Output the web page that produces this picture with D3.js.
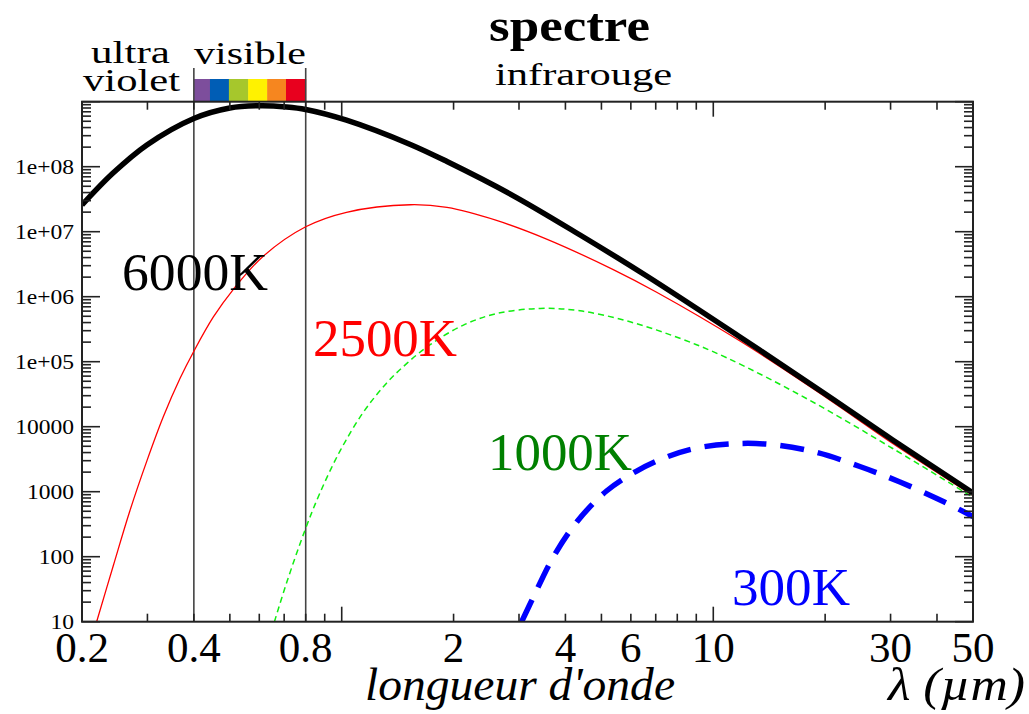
<!DOCTYPE html>
<html>
<head>
<meta charset="utf-8">
<script src="https://cdn.jsdelivr.net/npm/d3@7"></script>
<style>
  body { margin: 0; background: white; }
  svg { display: block; }
</style>
</head>
<body>
<div id="chart"></div>
<script>

// wavelengths in micrometres
var lambda_6000 = [0.2, 0.242, 0.299, 0.4, 0.5, 0.603, 0.711, 0.8, 1.03, 1.53, 1.92, 2.89, 4.38, 6.62, 11.8, 20.2, 30.4, 50];
var value_6000  = [2.58e7, 7.9e7, 2.16e8, 5.52e8, 8.0e8, 8.67e8, 8.3e8, 7.6e8, 5.2e8, 2.2e8, 1.2e8, 3.6e7, 8.9e6, 2.08e6, 2.4e5, 3.07e4, 6240, 955];

var lambda_2500 = [0.219, 0.243, 0.269, 0.299, 0.331, 0.367, 0.4, 0.451, 0.511, 0.615, 0.8, 1.03, 1.53, 1.92, 2.61, 3.56, 5.38, 7.04, 11.8, 20.2, 30.4, 50];
var value_2500  = [10, 73.8, 505, 2980, 1.42e4, 5.5e4, 1.45e5, 4.84e5, 1.3e6, 4.2e6, 1.19e7, 1.99e7, 2.6e7, 2.36e7, 1.49e7, 7.7e6, 2.61e6, 1.17e6, 2.08e5, 2.77e4, 5520, 874];

var lambda_1000 = [0.659, 0.711, 0.796, 0.874, 0.99, 1.142, 1.32, 1.5, 1.73, 2.12, 2.61, 3.42, 4.38, 5.97, 8.13, 10.9, 18.2, 30.4, 50];
var value_1000  = [10, 40, 254, 959, 4250, 1.65e4, 4.67e4, 9.5e4, 1.83e5, 3.63e5, 5.5e5, 6.6e5, 6.07e5, 4.11e5, 2.29e5, 1.14e5, 2.54e4, 4620, 820];

var lambda_300 = [3.05, 3.28, 3.71, 4.29, 5.16, 6.22, 7.49, 9.02, 11.8, 14.8, 19.0, 24.8, 31.8, 41.6, 50];
var value_300  = [10, 24, 99, 342, 1025, 2080, 3420, 4700, 5520, 5220, 4010, 2440, 1410, 707, 415];

var x_tick_labels = [0.2, 0.4, 0.8, 2, 4, 6, 10, 30, 50];
var y_tick_values = [10, 100, 1000, 10000, 1e5, 1e6, 1e7, 1e8];
var y_tick_labels = ['10', '100', '1000', '10000', '1e+05', '1e+06', '1e+07', '1e+08'];

// visible band edges and colours
var band_edges  = [0.4, 0.442, 0.497, 0.56, 0.63, 0.708, 0.8];
var band_colors = ['#7d4e9c', '#005db5', '#a6c72c', '#fff200', '#f6861f', '#e8001e'];

var width = 1029;
var height = 714;
var serif = '"Liberation Serif", "Times New Roman", serif';

var plot = {left: 82, right: 973, top: 101.7, bottom: 621.7};

var x = d3.scaleLog().domain([0.2, 50]).range([plot.left, plot.right]);
var y = d3.scaleLog().domain([10, 1e9]).range([plot.bottom, plot.top]);

var svg = d3.select('#chart')
  .append('svg')
  .attr('width', width)
  .attr('height', height);

svg.append('defs')
  .append('clipPath')
  .attr('id', 'plot-clip')
  .append('rect')
  .attr('x', plot.left)
  .attr('y', plot.top)
  .attr('width', plot.right - plot.left)
  .attr('height', plot.bottom - plot.top);

// stretch a text to a given width
function fit(sel, w){
  sel.attr('textLength', w).attr('lengthAdjust', 'spacingAndGlyphs');
  return sel;
}

// colour bar of the visible range
var bands = d3.range(band_colors.length).map(function(i){
  return {lo: band_edges[i], hi: band_edges[i + 1], color: band_colors[i]};
});

svg.append('g')
  .selectAll('rect')
  .data(bands)
  .enter()
  .append('rect')
  .attr('x', function(d){ return x(d.lo); })
  .attr('width', function(d){ return x(d.hi) - x(d.lo) + 0.5; })
  .attr('y', 79)
  .attr('height', plot.top - 79)
  .style('fill', function(d){ return d.color; });

// vertical lines at the visible limits
svg.append('g')
  .selectAll('line')
  .data([0.4, 0.8])
  .enter()
  .append('line')
  .attr('x1', function(d){ return x(d); })
  .attr('x2', function(d){ return x(d); })
  .attr('y1', 68)
  .attr('y2', plot.bottom)
  .style('stroke', '#444')
  .style('stroke-width', 1.6);

// curves
var line = d3.line()
  .x(function(d){ return x(d[0]); })
  .y(function(d){ return y(d[1]); })
  .curve(d3.curveCatmullRom.alpha(0.5));

function pairs(xs, ys){
  return xs.map(function(v, i){ return [v, ys[i]]; });
}

var curves = svg.append('g').attr('clip-path', 'url(#plot-clip)');

curves.append('path')
  .datum(pairs(lambda_300, value_300))
  .attr('d', line)
  .style('fill', 'none')
  .style('stroke', '#0000ff')
  .style('stroke-width', 5.5)
  .style('stroke-dasharray', '24,14');

curves.append('path')
  .datum(pairs(lambda_1000, value_1000))
  .attr('d', line)
  .style('fill', 'none')
  .style('stroke', '#11ee11')
  .style('stroke-width', 1.5)
  .style('stroke-dasharray', '6,4');

curves.append('path')
  .datum(pairs(lambda_2500, value_2500))
  .attr('d', line)
  .style('fill', 'none')
  .style('stroke', '#ff0000')
  .style('stroke-width', 1.3);

curves.append('path')
  .datum(pairs(lambda_6000, value_6000))
  .attr('d', line)
  .style('fill', 'none')
  .style('stroke', '#000')
  .style('stroke-width', 5.5);

// ticks
var x_minor = [];
[0.1, 1, 10].forEach(function(dec){
  d3.range(1, 10).forEach(function(k){
    var v = +(k * dec).toPrecision(3);
    if (v > 0.2 && v < 50) x_minor.push(v);
  });
});

var y_minor = [];
d3.range(1, 9).forEach(function(n){
  d3.range(1, 10).forEach(function(k){
    y_minor.push(k * Math.pow(10, n));
  });
});
y_minor.push(1e9);

var tick_color = '#222';
var ticks = svg.append('g').style('stroke', tick_color).style('stroke-width', 1.6);

function x_len(v){ return (v === 1 || v === 10) ? 15 : 8; }
function y_len(v){ return (Math.abs(Math.log10(v) - Math.round(Math.log10(v))) < 1e-9) ? 18 : 9; }

ticks.selectAll('.xb')
  .data(x_minor)
  .enter()
  .append('line')
  .attr('x1', function(d){ return x(d); })
  .attr('x2', function(d){ return x(d); })
  .attr('y1', plot.bottom)
  .attr('y2', function(d){ return plot.bottom - x_len(d); });

ticks.selectAll('.xt')
  .data(x_minor)
  .enter()
  .append('line')
  .attr('x1', function(d){ return x(d); })
  .attr('x2', function(d){ return x(d); })
  .attr('y1', plot.top)
  .attr('y2', function(d){ return plot.top + x_len(d); });

ticks.selectAll('.yl')
  .data(y_minor)
  .enter()
  .append('line')
  .attr('x1', plot.left)
  .attr('x2', function(d){ return plot.left + y_len(d); })
  .attr('y1', function(d){ return y(d); })
  .attr('y2', function(d){ return y(d); });

ticks.selectAll('.yr')
  .data(y_minor)
  .enter()
  .append('line')
  .attr('x1', plot.right)
  .attr('x2', function(d){ return plot.right - y_len(d); })
  .attr('y1', function(d){ return y(d); })
  .attr('y2', function(d){ return y(d); });

// frame
svg.append('rect')
  .attr('x', plot.left)
  .attr('y', plot.top)
  .attr('width', plot.right - plot.left)
  .attr('height', plot.bottom - plot.top)
  .style('fill', 'none')
  .style('stroke', tick_color)
  .style('stroke-width', 2);

// tick labels
svg.append('g')
  .selectAll('text')
  .data(x_tick_labels)
  .enter()
  .append('text')
  .attr('x', function(d){ return x(d); })
  .attr('y', 662)
  .style('font-family', serif)
  .style('font-size', '43px')
  .style('text-anchor', 'middle')
  .text(function(d){ return String(d); });

svg.append('g')
  .selectAll('text')
  .data(y_tick_values)
  .enter()
  .append('text')
  .attr('x', 74)
  .attr('y', function(d){ return y(d) + 7; })
  .style('font-family', serif)
  .style('font-size', '21px')
  .style('text-anchor', 'end')
  .text(function(d, i){ return y_tick_labels[i]; })
  .each(function(){
    var t = d3.select(this);
    fit(t, this.getComputedTextLength() * 1.12);
  });

// titles
fit(svg.append('text')
  .attr('x', 489)
  .attr('y', 41)
  .style('font-family', serif)
  .style('font-weight', 'bold')
  .style('font-size', '47px')
  .text('spectre'), 161);

var top_labels = [
  {text: 'ultra', x: 91, y: 63, w: 79},
  {text: 'violet', x: 83, y: 91, w: 97},
  {text: 'visible', x: 194, y: 64, w: 112},
  {text: 'infrarouge', x: 495, y: 85, w: 177}
];

top_labels.forEach(function(d){
  fit(svg.append('text')
    .attr('x', d.x)
    .attr('y', d.y)
    .style('font-family', serif)
    .style('font-size', '31px')
    .text(d.text), d.w);
});

fit(svg.append('text')
  .attr('x', 365)
  .attr('y', 700)
  .style('font-family', serif)
  .style('font-style', 'italic')
  .style('font-size', '46px')
  .text("longueur d'onde"), 310);

fit(svg.append('text')
  .attr('x', 888)
  .attr('y', 700)
  .style('font-family', serif)
  .style('font-style', 'italic')
  .style('font-size', '46px')
  .text('λ (µm)'), 137);

// temperature labels
var temp_labels = [
  {text: '6000K', x: 122, y: 290, w: 146, color: '#000'},
  {text: '2500K', x: 313, y: 356, w: 144, color: '#ff0000'},
  {text: '1000K', x: 488, y: 470, w: 144, color: '#008000'},
  {text: '300K', x: 732, y: 605, w: 118, color: '#0000ff'}
];

svg.append('g')
  .selectAll('text')
  .data(temp_labels)
  .enter()
  .append('text')
  .attr('x', function(d){ return d.x; })
  .attr('y', function(d){ return d.y; })
  .attr('textLength', function(d){ return d.w; })
  .attr('lengthAdjust', 'spacingAndGlyphs')
  .style('font-family', serif)
  .style('font-size', '52px')
  .style('fill', function(d){ return d.color; })
  .text(function(d){ return d.text; });

</script>
</body>
</html>
